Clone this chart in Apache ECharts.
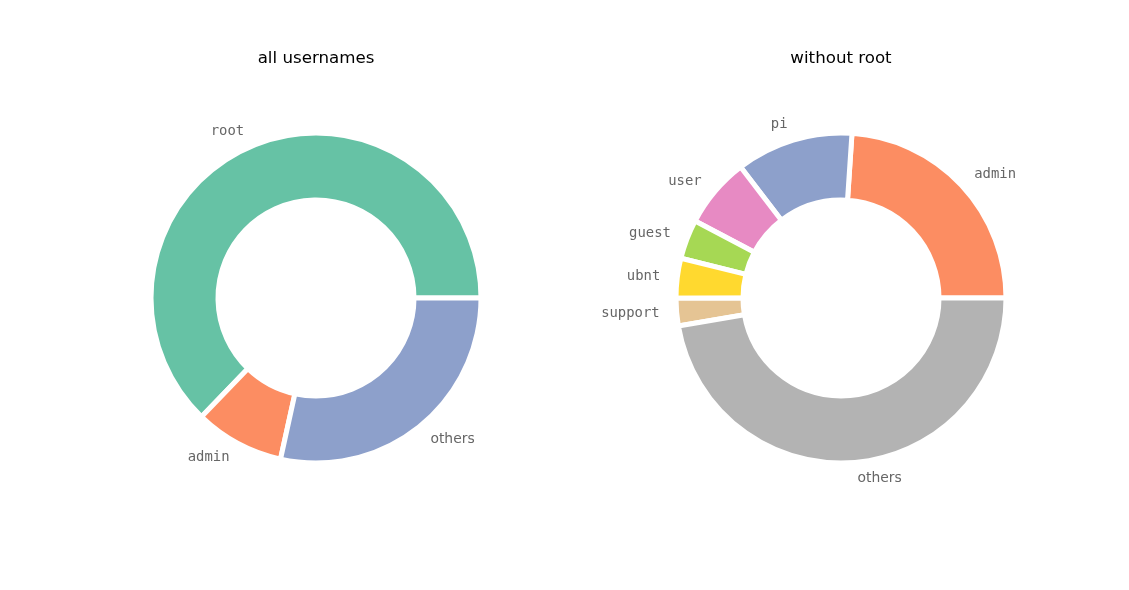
<!DOCTYPE html>
<html>
<head>
<meta charset="utf-8">
<script src="https://cdn.jsdelivr.net/npm/echarts@6/dist/echarts.min.js"></script>
<style>html,body{margin:0;padding:0;background:#fff}#c{width:1129px;height:590px}</style>
</head>
<body>
<div id="c"></div>
<script>
// Data
const leftTitle = 'all usernames';
const leftNames = ['root', 'admin', 'others'];
const leftValues = [62.8, 8.75, 28.45];
const leftColors = ['#66c2a5', '#fc8d62', '#8da0cb'];

const rightTitle = 'without root';
const rightNames = ['admin', 'pi', 'user', 'guest', 'ubnt', 'support', 'others'];
const rightValues = [23.94, 11.47, 6.86, 3.86, 3.89, 2.70, 47.28];
const rightColors = ['#fc8d62', '#8da0cb', '#e78ac3', '#a6d854', '#ffd92f', '#e5c494', '#b3b3b3'];

const chart = echarts.init(document.getElementById('c'), null, {renderer: 'canvas'});

function buildData(names, values, colors) {
  return names.map((n, i) => ({
    name: n,
    value: values[i],
    itemStyle: {color: colors[i]},
    label: {fontFamily: n === 'others' ? 'DejaVu Sans' : 'DejaVu Sans Mono'}
  }));
}

function pieSeries(cx, names, values, colors) {
  return {
    type: 'pie',
    center: [cx, 298],
    radius: [98, 165],
    startAngle: 0,
    clockwise: false,
    avoidLabelOverlap: false,
    animation: false,
    silent: true,
    emphasis: {disabled: true, scale: false},
    itemStyle: {borderColor: '#ffffff', borderWidth: 5},
    label: {
      show: true,
      position: 'outside',
      formatter: '{b}',
      color: '#666666',
      fontSize: 13.9,
      padding: [3, 0, 0, 0],
      distanceToLabelLine: 1
    },
    labelLine: {show: false, length: 16, length2: 0},
    data: buildData(names, values, colors)
  };
}

chart.setOption({
  animation: false,
  graphic: [
    {type: 'text', x: 316, y: 59, style: {text: leftTitle, fontSize: 16.67, fontFamily: 'DejaVu Sans', fill: '#000', align: 'center', verticalAlign: 'middle'}},
    {type: 'text', x: 841, y: 59, style: {text: rightTitle, fontSize: 16.67, fontFamily: 'DejaVu Sans', fill: '#000', align: 'center', verticalAlign: 'middle'}}
  ],
  series: [
    pieSeries(316, leftNames, leftValues, leftColors),
    pieSeries(841, rightNames, rightValues, rightColors)
  ]
});
</script>
</body>
</html>
